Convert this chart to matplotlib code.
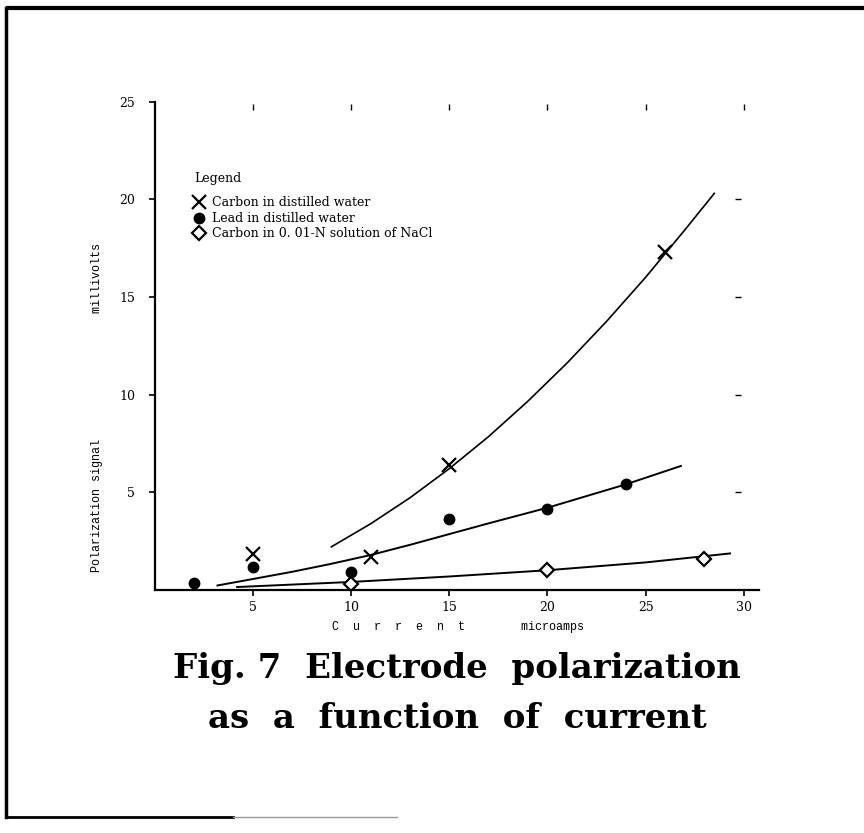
import matplotlib
matplotlib.use('Agg')
import matplotlib.pyplot as plt
from matplotlib.lines import Line2D

# data points
carbon_x = [5, 11, 15, 26]
carbon_y = [1.85, 1.7, 6.4, 17.3]
lead_x = [2, 5, 10, 15, 20, 24]
lead_y = [0.36, 1.17, 0.91, 3.62, 4.14, 5.43]
nacl_x = [10, 20, 28]
nacl_y = [0.31, 1.0, 1.6]

# hand-drawn fit curves
carbon_fit_x = [9, 11, 13, 15, 17, 19, 21, 23, 25, 27, 28.5]
carbon_fit_y = [2.2, 3.38, 4.71, 6.2, 7.84, 9.65, 11.61, 13.73, 16.0, 18.43, 20.3]
lead_fit_x = [3.2, 5, 7, 9, 11, 13, 15, 17, 20, 22, 24, 26.8]
lead_fit_y = [0.22, 0.55, 0.92, 1.33, 1.78, 2.3, 2.85, 3.4, 4.2, 4.8, 5.4, 6.34]
nacl_fit_x = [4.2, 10, 15, 20, 25, 29.3]
nacl_fit_y = [0.14, 0.4, 0.68, 1.0, 1.4, 1.86]

x_ticks = [5, 10, 15, 20, 25, 30]
y_ticks = [5, 10, 15, 20, 25]
right_marks = [5, 10, 15, 20]

serif = 'DejaVu Serif'
mono = 'Liberation Mono'

fig = plt.figure(figsize=(8.64, 8.33), dpi=100)
ax = fig.add_axes([0.179, 0.292, 0.70, 0.586])

ax.plot(carbon_fit_x, carbon_fit_y, color='black', lw=1.2)
ax.plot(lead_fit_x, lead_fit_y, color='black', lw=1.4)
ax.plot(nacl_fit_x, nacl_fit_y, color='black', lw=1.4)

ax.plot(carbon_x, carbon_y, linestyle='none', marker='x', markersize=10,
        markeredgewidth=1.6, color='black', label='Carbon in distilled water')
ax.plot(lead_x, lead_y, linestyle='none', marker='o', markersize=7.5,
        color='black', label='Lead in distilled water')
ax.plot(nacl_x, nacl_y, linestyle='none', marker='D', markersize=7,
        markerfacecolor='white', markeredgecolor='black', markeredgewidth=1.6,
        label='Carbon in 0. 01-N solution of NaCl')

# stray grid marks along the top and right of the plot
ax.plot(x_ticks, [24.75] * len(x_ticks), linestyle='none', marker='|',
        markersize=5, color='black', clip_on=False)
ax.plot([29.7] * len(right_marks), right_marks, linestyle='none', marker='_',
        markersize=4, color='black', clip_on=False)

ax.set_xlim(0, 30.8)
ax.set_ylim(0, 25)
ax.spines['top'].set_visible(False)
ax.spines['right'].set_visible(False)
ax.spines['left'].set_linewidth(1.6)
ax.spines['bottom'].set_linewidth(1.6)
ax.set_xticks(x_ticks)
ax.set_yticks(y_ticks)
ax.tick_params(axis='both', direction='out', length=4, width=1.2, labelsize=9)
ax.tick_params(axis='x', pad=4)
ax.tick_params(axis='y', pad=10)
for lab in ax.get_xticklabels() + ax.get_yticklabels():
    lab.set_family(serif)

leg = ax.legend(loc='upper left', bbox_to_anchor=(0.055, 0.868), frameon=False,
                title='Legend', alignment='left', handlelength=0.8,
                handletextpad=0.6, labelspacing=0.2, borderpad=0,
                prop={'family': serif, 'size': 9})
leg.get_title().set_family(serif)
leg.get_title().set_fontsize(9)
leg._legend_box.sep = 8

fig.text(0.112, 0.511,
         'Polarization signal                  millivolts',
         rotation=90, ha='center', va='center', family=mono, fontsize=8.5)
fig.text(0.530, 0.247, 'C  u  r  r  e  n  t        microamps',
         ha='center', va='center', family=mono, fontsize=8.5)

fig.text(0.529, 0.197, 'Fig. 7  Electrode  polarization', ha='center',
         va='center', family=serif, fontweight='bold', fontsize=24.5)
fig.text(0.529, 0.137, 'as  a  function  of  current', ha='center',
         va='center', family=serif, fontweight='bold', fontsize=24.5)

# scanned page border
fig.add_artist(Line2D([0.009, 1.0], [0.990, 0.990], color='black', lw=3))
fig.add_artist(Line2D([0.007, 0.007], [0.990, 0.019], color='black', lw=2.5))
fig.add_artist(Line2D([0.007, 0.27], [0.019, 0.019], color='black', lw=2))
fig.add_artist(Line2D([0.27, 0.46], [0.019, 0.019], color='0.6', lw=1))

fig.savefig('out.png', dpi=100, facecolor='white')
